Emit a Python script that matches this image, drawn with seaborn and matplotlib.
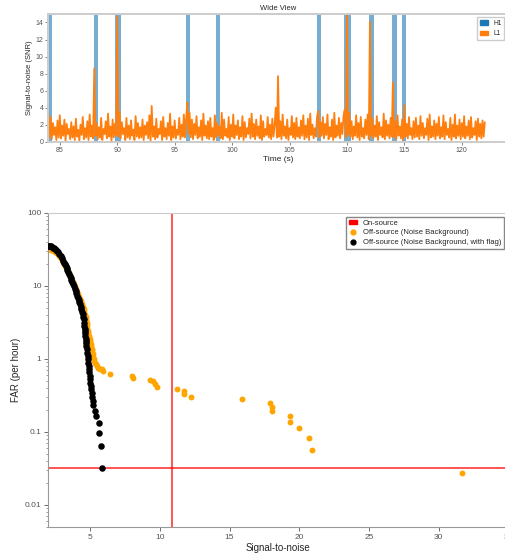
import numpy as np
import seaborn as sns
import matplotlib.pyplot as plt
from matplotlib.patches import Patch
from matplotlib.lines import Line2D
from matplotlib.ticker import FuncFormatter, MultipleLocator

# --- top panel: wide view of the SNR time series ---
h1_start = [84.04, 87.96, 89.78, 95.96, 98.57, 107.38, 109.75, 111.96, 113.93, 114.77]
h1_end = [84.33, 88.30, 90.33, 96.36, 98.94, 107.72, 110.33, 112.36, 114.33, 115.17]
h1_peak = [40, 40, 40, 40, 40, 40, 40, 40, 40, 40]

l1_snr = [
    3.4, 0.6, 2.9, 0.3, 2.2, 0.8, 1.7, 0.2, 2.5, 0.5, 3.1, 0.4, 1.9, 0.7, 2.6, 0.1, 2.1, 0.9, 1.5, 0.3,
    2.3, 0.5, 1.8, 0.2, 2.7, 0.6, 1.4, 0.1, 2.0, 0.8, 2.9, 0.3, 1.6, 0.5, 2.4, 0.2, 3.2, 0.6, 1.9, 0.4,
    8.6, 0.7, 2.2, 0.3, 1.7, 0.5, 2.8, 0.2, 1.5, 0.9, 2.4, 0.4, 3.3, 0.6, 1.8, 0.1, 2.6, 0.5, 2.1, 0.8,
    14.7, 0.6, 3.5, 0.4, 2.3, 0.9, 1.6, 0.2, 2.8, 0.5, 1.9, 0.3, 2.5, 0.7, 1.4, 0.2, 3.0, 0.6, 2.2, 0.4,
    1.7, 0.5, 2.6, 0.2, 1.9, 0.8, 2.3, 0.4, 3.1, 0.1, 4.2, 0.6, 1.8, 0.3, 2.7, 0.5, 1.5, 0.9, 2.4, 0.2,
    2.9, 0.6, 1.6, 0.3, 2.2, 0.7, 3.3, 0.2, 1.8, 0.5, 2.5, 0.4, 1.4, 0.8, 2.8, 0.3, 2.0, 0.6, 3.2, 0.5,
    2.7, 4.6, 0.9, 3.4, 0.5, 2.6, 0.3, 2.1, 0.8, 3.0, 0.4, 1.7, 0.6, 2.5, 0.2, 3.3, 0.7, 1.9, 0.4, 2.4,
    0.3, 2.8, 0.6, 1.6, 0.2, 3.1, 0.5, 2.2, 0.8, 1.8, 0.4, 3.4, 0.3, 2.6, 0.7, 1.5, 0.5, 2.9, 0.2, 2.0,
    0.6, 3.2, 0.4, 1.9, 0.8, 2.5, 0.3, 1.7, 0.6, 3.0, 0.2, 2.3, 0.5, 1.6, 0.9, 2.7, 0.4, 3.3, 0.6, 2.1,
    0.3, 2.6, 0.7, 1.8, 0.4, 3.1, 0.2, 2.4, 0.6, 1.5, 0.8, 2.9, 0.5, 2.0, 0.3, 2.7, 0.6, 1.9, 4.0, 0.5,
    7.7, 0.6, 2.4, 0.3, 3.2, 0.7, 1.8, 0.4, 2.6, 0.2, 1.6, 0.8, 3.0, 0.5, 2.2, 0.3, 2.8, 0.6, 1.7, 0.4,
    2.5, 0.7, 3.1, 0.3, 1.9, 0.5, 2.7, 0.2, 3.3, 0.8, 2.0, 0.4, 1.6, 0.6, 3.0, 3.6, 0.5, 2.3, 0.7, 2.9,
    0.4, 2.1, 0.8, 3.2, 0.3, 1.7, 0.6, 2.6, 0.2, 3.4, 0.5, 1.9, 0.7, 2.8, 0.4, 2.2, 0.9, 3.0, 3.7, 0.5,
    15.5, 0.8, 3.4, 0.6, 2.4, 0.3, 1.8, 0.7, 3.1, 0.5, 2.2, 0.2, 2.9, 0.6, 1.6, 0.4, 2.6, 0.8, 3.2, 0.3,
    14.1, 0.7, 2.7, 0.4, 1.9, 0.6, 3.0, 0.2, 2.3, 0.8, 1.7, 0.5, 3.3, 0.3, 2.5, 0.7, 2.0, 0.4, 2.8, 0.6,
    7.0, 0.5, 2.4, 0.3, 3.1, 0.7, 1.8, 0.4, 2.6, 0.2, 4.3, 0.6, 2.1, 0.4, 2.9, 0.8, 1.6, 0.3, 2.4, 0.5,
    2.8, 0.6, 1.9, 0.3, 3.0, 0.7, 2.2, 0.4, 1.6, 0.8, 2.7, 0.2, 3.2, 0.5, 1.8, 0.6, 2.5, 0.3, 2.1, 0.7,
    2.9, 0.4, 1.7, 0.6, 3.1, 0.3, 2.3, 0.8, 1.5, 0.5, 2.8, 0.2, 2.0, 0.6, 3.2, 0.4, 1.9, 0.7, 2.6, 0.3,
    2.2, 0.6, 3.0, 0.4, 1.8, 0.7, 2.5, 0.3, 2.9, 0.5, 1.6, 0.8, 2.4, 0.2, 2.7, 0.6, 2.1, 0.4, 2.5, 0.6,
    2.3,
]
l1_start, l1_stop = 84.0, 122.0

# --- bottom panel: FAR vs SNR ---
onsource_snr = 10.9
onsource_far = 0.0322

bg_snr = [2.00, 2.06, 2.12, 2.19, 2.26, 2.33, 2.41, 2.48, 2.55, 2.62, 2.70, 2.77, 2.84, 2.91, 2.98,
          3.05, 3.12, 3.20, 3.27, 3.34, 3.41, 3.48, 3.55, 3.62, 3.70, 3.77, 3.84, 3.92, 3.99, 4.06,
          4.13, 4.20, 4.28, 4.35, 4.41, 4.47, 4.53, 4.58, 4.63, 4.67, 4.71, 4.75, 4.78, 4.81, 4.85,
          4.88, 4.92, 4.96, 4.99, 5.03, 5.07, 5.10, 5.13, 5.16, 5.19, 5.23, 5.26, 5.28, 5.35, 5.42,
          5.50, 5.59, 5.71, 5.83, 5.95, 6.43, 7.98, 8.10, 9.30, 9.53, 9.68, 9.82, 11.21, 11.71, 11.71,
          12.24, 15.87, 17.93, 18.05, 18.05, 19.34, 19.34, 19.96, 20.70, 20.94, 31.66]
bg_far = [31.9, 31.7, 31.5, 31.2, 30.8, 30.4, 30.0, 29.3, 28.7, 28.1, 27.0, 25.9, 24.8, 23.6, 22.4,
          21.2, 20.0, 18.9, 17.8, 16.7, 15.7, 14.7, 13.8, 12.9, 12.0, 11.2, 10.4, 9.63, 8.95, 8.30,
          7.72, 7.10, 6.55, 6.10, 5.55, 5.12, 4.73, 4.30, 3.98, 3.68, 3.35, 3.10, 2.86, 2.62, 2.42,
          2.22, 2.02, 1.87, 1.73, 1.60, 1.48, 1.38, 1.30, 1.22, 1.15, 1.05, 0.98, 0.927, 0.860, 0.835,
          0.80, 0.753, 0.730, 0.713, 0.676, 0.617, 0.573, 0.544, 0.515, 0.489, 0.455, 0.41, 0.388, 0.360, 0.332,
          0.302, 0.277, 0.249, 0.220, 0.191, 0.166, 0.137, 0.112, 0.0817, 0.0555, 0.0274]

flag_snr = [2.00, 2.06, 2.12, 2.19, 2.26, 2.33, 2.41, 2.48, 2.55, 2.62, 2.70, 2.79, 2.89, 2.97, 3.05,
            3.12, 3.19, 3.25, 3.31, 3.36, 3.41, 3.47, 3.54, 3.61, 3.66, 3.72, 3.77, 3.83, 3.90, 3.97,
            4.02, 4.08, 4.13, 4.18, 4.23, 4.27, 4.32, 4.37, 4.42, 4.46, 4.50, 4.53, 4.56, 4.58, 4.60,
            4.62, 4.63, 4.65, 4.67, 4.69, 4.70, 4.73, 4.76, 4.79, 4.82, 4.85, 4.87, 4.90, 4.92, 4.94,
            4.97, 4.99, 5.01, 5.04, 5.06, 5.10, 5.15, 5.19, 5.23, 5.35, 5.40, 5.64, 5.64, 5.78, 5.85]
flag_far = [35.1, 35.0, 34.8, 34.5, 33.9, 33.2, 32.4, 31.7, 30.9, 30.0, 28.6, 27.1, 25.4, 23.6, 21.9,
            20.7, 19.6, 18.5, 17.4, 16.4, 15.5, 14.6, 13.7, 12.9, 12.1, 11.3, 10.6, 9.8, 9.1, 8.44,
            7.9, 7.3, 6.81, 6.35, 5.95, 5.55, 5.13, 4.74, 4.38, 4.05, 3.73, 3.45, 3.10, 2.80, 2.52,
            2.38, 2.26, 2.03, 1.84, 1.75, 1.66, 1.49, 1.34, 1.20, 1.08, 0.977, 0.88, 0.79, 0.713, 0.65,
            0.58, 0.520, 0.47, 0.42, 0.379, 0.34, 0.30, 0.262, 0.229, 0.191, 0.164, 0.130, 0.0948, 0.0635, 0.0314]

sns.set_theme(style='ticks')
plt.rcParams['font.family'] = ['Liberation Sans', 'DejaVu Sans']

fig = plt.figure(figsize=(5.06, 5.58), dpi=100)

# top panel
ax1 = fig.add_axes([0.0955, 0.746, 0.908, 0.229])
l1_time = np.linspace(l1_start, l1_stop, len(l1_snr))
h1_width = np.array(h1_end) - np.array(h1_start)
ax1.bar(h1_start, h1_peak, width=h1_width, align='edge', color='tab:blue',
        alpha=0.6, linewidth=0)
sns.lineplot(x=l1_time, y=l1_snr, ax=ax1, color='tab:orange', linewidth=1.3)
ax1.set_xlim(84, 124)
ax1.set_ylim(0, 15)
ax1.xaxis.set_major_locator(MultipleLocator(5))
ax1.yaxis.set_major_locator(MultipleLocator(2))
ax1.set_title('Wide View', fontsize=5.5, pad=3)
ax1.set_xlabel('Time (s)', fontsize=6, labelpad=1.5)
ax1.set_ylabel('Signal-to-noise (SNR)', fontsize=5.5, labelpad=2)
ax1.tick_params(labelsize=5, length=2, width=0.5, colors='#555555', pad=1.5)
for side, sp in ax1.spines.items():
    sp.set_color('#cccccc')
    sp.set_linewidth(1.4)
ax1.legend(handles=[Patch(color='tab:blue', label='H1'),
                    Patch(color='tab:orange', label='L1')],
           loc='upper right', fontsize=4.8, handlelength=1.2, handleheight=0.6,
           fancybox=False, edgecolor='#cccccc', framealpha=1, borderpad=0.4)

# bottom panel
ax2 = fig.add_axes([0.0955, 0.0561, 0.909, 0.5627])
ax2.axvline(onsource_snr, color='red', linewidth=1.1, alpha=0.85, zorder=1)
ax2.axhline(onsource_far, color='red', linewidth=1.1, alpha=0.85, zorder=1)
sns.scatterplot(x=bg_snr, y=bg_far, ax=ax2, color='orange', s=18,
                linewidth=0, zorder=2)
sns.scatterplot(x=flag_snr, y=flag_far, ax=ax2, color='black', s=22,
                linewidth=0, zorder=3)
ax2.set_yscale('log')
ax2.set_xlim(2, 35)
ax2.set_ylim(0.005, 100)
ax2.xaxis.set_major_locator(MultipleLocator(5))
ax2.yaxis.set_major_formatter(FuncFormatter(lambda v, p: '%g' % v))
ax2.set_xlabel('Signal-to-noise', fontsize=7, labelpad=2)
ax2.set_ylabel('FAR (per hour)', fontsize=7, labelpad=3)
ax2.tick_params(labelsize=6, length=3, width=0.6, colors='#555555', pad=2)
ax2.tick_params(which='minor', length=1.8, width=0.5, colors='#777777')
for side, sp in ax2.spines.items():
    sp.set_color('#999999')
    sp.set_linewidth(0.8)
ax2.spines['top'].set_color('#cccccc')
ax2.legend(handles=[Patch(color='red', label='On-source'),
                    Line2D([], [], marker='o', linestyle='', color='orange',
                           markersize=3.5, label='Off-source (Noise Background)'),
                    Line2D([], [], marker='o', linestyle='', color='black',
                           markersize=3.5, label='Off-source (Noise Background, with flag)')],
           loc='upper right', fontsize=5.5, handlelength=1.0, handleheight=0.6,
           fancybox=False, edgecolor='#888888', framealpha=1, borderpad=0.4,
           labelspacing=0.35)

fig.savefig('out.png', dpi=100)
